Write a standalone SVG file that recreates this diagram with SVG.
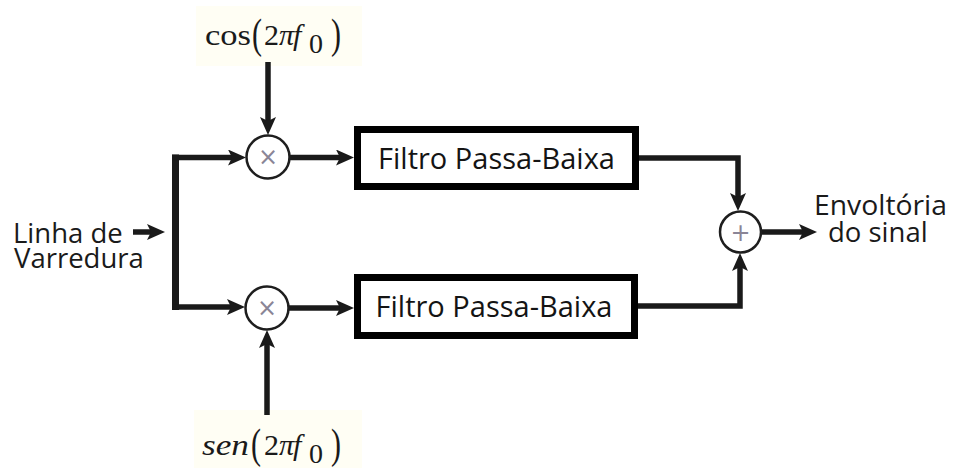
<svg xmlns="http://www.w3.org/2000/svg" width="954" height="468" viewBox="0 0 954 468">
  <style>
    .wire { fill: none; stroke: #1a1a1a; stroke-width: 5.5; stroke-linejoin: miter; stroke-linecap: butt; }
    .arrow { marker-end: url(#head); }
    .box { fill: #ffffff; stroke: #000000; stroke-width: 7; }
    .op { fill: #ffffff; stroke: #1e1e1e; stroke-width: 2.5; }
    .opsym { font-family: "DejaVu Sans", "Liberation Sans", sans-serif; font-size: 24px; fill: #8a8596; text-anchor: middle; }
    .lbl { font-family: "Open Sans", "Noto Sans", sans-serif; font-size: 27.5px; fill: #1a1a1a; }
    .blk { font-family: "Open Sans", "Noto Sans", sans-serif; font-size: 29px; fill: #141414; text-anchor: middle; }
    .math { font-family: "Liberation Serif", "Times New Roman", serif; font-size: 30px; fill: #1a1a1a; }
    .sub { font-size: 28px; }
    .it { font-style: italic; }
  </style>
  <defs>
    <marker id="head" viewBox="0 0 18 16" markerWidth="18" markerHeight="16" refX="8" refY="8" orient="auto" markerUnits="userSpaceOnUse">
      <path d="M0,0 L18,8 L0,16 L4,8 Z" fill="#1a1a1a"/>
    </marker>
  </defs>

  <rect width="954" height="468" fill="#ffffff"/>

  <!-- carrier labels -->
  <g id="carrier-cos">
    <rect x="196" y="6" width="166" height="60" fill="#fffef4"/>
    <text class="math" x="205" y="45" textLength="46" lengthAdjust="spacingAndGlyphs">cos</text>
    <text class="math" transform="translate(252,48) scale(1,1.43)" x="0" y="0">(</text>
    <text class="math" x="264" y="45">2</text>
    <text class="math it" x="279" y="45">π</text>
    <text class="math it" x="293" y="45">f</text>
    <text class="math sub" x="309" y="53">0</text>
    <text class="math" transform="translate(331,48) scale(1,1.43)" x="0" y="0">)</text>
  </g>
  <g id="carrier-sen">
    <rect x="194" y="410" width="168" height="58" fill="#fffef4"/>
    <text class="math it" x="202" y="455" textLength="47" lengthAdjust="spacingAndGlyphs">sen</text>
    <text class="math" transform="translate(251,458) scale(1,1.43)" x="0" y="0">(</text>
    <text class="math" x="264" y="455">2</text>
    <text class="math it" x="279" y="455">π</text>
    <text class="math it" x="293" y="455">f</text>
    <text class="math sub" x="309" y="463">0</text>
    <text class="math" transform="translate(331,458) scale(1,1.43)" x="0" y="0">)</text>
  </g>

  <!-- input / output labels -->
  <g id="input">
    <text class="lbl" x="13" y="243">Linha de</text>
    <text class="lbl" x="14" y="268">Varredura</text>
  </g>
  <g id="output">
    <text class="lbl" x="814" y="215" textLength="133" lengthAdjust="spacingAndGlyphs">Envoltória</text>
    <text class="lbl" x="828" y="242">do sinal</text>
  </g>

  <!-- connectors -->
  <g id="connectors">
    <path class="wire arrow" d="M133,232 H155"/>
    <path class="wire" d="M175.5,154.5 V310" style="stroke-width:7"/>
    <path class="wire arrow" d="M172,157.5 H236"/>
    <path class="wire arrow" d="M172,307 H235"/>
    <path class="wire arrow" d="M268,62 V125"/>
    <path class="wire arrow" d="M267,415 V340"/>
    <path class="wire arrow" d="M290,157.5 H344"/>
    <path class="wire arrow" d="M289,308 H344"/>
    <path class="wire arrow" d="M639,158 H738 V201"/>
    <path class="wire arrow" d="M638,306 H740 V263"/>
    <path class="wire arrow" d="M761,232 H807"/>
  </g>

  <!-- mixers -->
  <g id="mixer-i">
    <circle class="op" cx="268" cy="157" r="21.5"/>
    <text class="opsym" x="268" y="165">×</text>
  </g>
  <g id="mixer-q">
    <circle class="op" cx="267" cy="308" r="21.5"/>
    <text class="opsym" x="267" y="316">×</text>
  </g>

  <!-- low-pass filters -->
  <g id="lpf-i">
    <rect class="box" x="357.5" y="129.5" width="278" height="57"/>
    <text class="blk" x="496.5" y="169">Filtro Passa-Baixa</text>
  </g>
  <g id="lpf-q">
    <rect class="box" x="357.5" y="277.5" width="277" height="58"/>
    <text class="blk" x="494" y="317">Filtro Passa-Baixa</text>
  </g>

  <!-- summer -->
  <g id="summer">
    <circle class="op" cx="740.5" cy="232" r="20.5"/>
    <text class="opsym" x="740.5" y="241">+</text>
  </g>
</svg>
